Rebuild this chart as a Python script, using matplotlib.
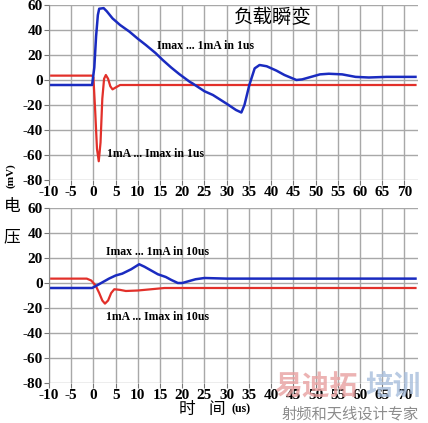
import numpy as np
import matplotlib
matplotlib.use('Agg')
import matplotlib.pyplot as plt

plt.rcParams['font.family'] = ['Liberation Serif', 'Noto Sans CJK SC', 'DejaVu Sans']
plt.rcParams['axes.unicode_minus'] = False

# 1us 负载瞬变 (上图)
t1_blue = [-9.5, -0.3, 0.2, 0.6, 1.0, 1.3, 2.3, 3.0, 4.3, 6, 8.1, 10, 11.8, 14, 15.6, 17.5, 19.3,
           21.7, 22.3, 25, 26.9, 30, 32.1, 33.3, 34.0, 35.1, 36.3, 37.4, 39, 41.2, 43, 45.7, 47,
           49, 51, 53, 56, 59, 62, 66, 72.5]
v1_blue = [-4, -4, 10, 35, 52, 57, 57.5, 55, 49.3, 44, 38.7, 33, 28, 21.5, 16, 10, 4.8,
           -1.5, -2.7, -9, -12, -19, -24, -26, -20, -4, 9.3, 12, 11, 7.5, 4, 0, 0.5,
           2.5, 4.5, 5, 4.5, 2.5, 2, 2.5, 2.5]
t1_red = [-9.5, -0.3, 0.0, 0.4, 0.8, 1.2, 1.6, 2.0, 2.4, 2.8, 3.3, 3.8, 4.3, 5, 6, 8, 72.5]
v1_red = [3.5, 3.5, 2, -25, -55, -65, -50, -15, 1, 4, 1, -5, -7.5, -6, -4, -4, -4]

# 10us 负载瞬变 (下图)
t2_blue = [-9.5, -0.3, 0.5, 2, 3.5, 5.0, 6.5, 8.5, 10.3, 11.5, 13, 14.5, 16.3, 17.5, 19, 20,
           21.5, 23, 25, 30, 72.5]
v2_blue = [-4, -4, -2.5, 0.5, 3.5, 6, 7.5, 11, 15, 13, 10, 7, 4.8, 2.5, 0, 0,
           1.5, 3, 4, 3.5, 3.5]
t2_red = [-9.5, -1.5, -0.5, 0.5, 1.3, 2.0, 2.6, 3.3, 4.0, 4.7, 6.0, 7.3, 10, 13, 16, 25, 72.5]
v2_red = [3.5, 3.5, 2, -2, -8, -14, -16.5, -14, -8, -5, -5.5, -6.4, -6, -5, -4, -4, -4]

xticks = np.arange(-10, 71, 5)
yticks = np.arange(-80, 61, 20)

blue = '#1a2bc0'
red = '#e2302a'
cjk = ['Noto Sans CJK SC', 'DejaVu Sans']

W, H = 428, 423
fig = plt.figure(figsize=(W / 100, H / 100), dpi=100)

ax1 = fig.add_axes([49 / W, 1 - 180 / H, 368.7 / W, 175 / H])
ax2 = fig.add_axes([49 / W, 1 - 383 / H, 368.7 / W, 175 / H])

for ax in (ax1, ax2):
    ax.set_xlim(-10, 73)
    ax.set_ylim(-80, 60)
    ax.set_xticks(xticks)
    ax.set_yticks(yticks)
    ax.grid(True, color='#a8a8a8', lw=1)
    ax.set_axisbelow(True)
    for s in ('top', 'right', 'bottom'):
        ax.spines[s].set_visible(False)
    ax.spines['left'].set_color('#888888')
    ax.tick_params(length=3.5, width=0.8, color='#777777', pad=1,
                   labelsize=11)
    for lab in ax.get_xticklabels() + ax.get_yticklabels():
        lab.set_fontweight('bold')

ax1.plot(t1_red, v1_red, color=red, lw=1.6)
ax1.plot(t1_blue, v1_blue, color=blue, lw=1.8)
ax2.plot(t2_red, v2_red, color=red, lw=1.6)
ax2.plot(t2_blue, v2_blue, color=blue, lw=1.8)

ax1.text(14.4, 27.4, 'Imax ... 1mA in 1us', fontsize=8.5, fontweight='bold', va='center')
ax1.text(3.1, -59.2, '1mA ... Imax in 1us', fontsize=8.5, fontweight='bold', va='center')
ax2.text(2.9, 25, 'Imax ... 1mA in 10us', fontsize=8.5, fontweight='bold', va='center')
ax2.text(2.9, -27, '1mA ... Imax in 10us', fontsize=8.5, fontweight='bold', va='center')

fig.text(273 / W, 1 - 17.5 / H, '负载瞬变', ha='center', va='center', fontsize=14, family=cjk)

# 纵轴标题
fig.text(11 / W, 1 - 176 / H, '(mV)', rotation=90, ha='center', va='center',
         fontsize=8, fontweight='bold')
fig.text(12 / W, 1 - 207 / H, '电', ha='center', va='center', fontsize=12, family=cjk)
fig.text(12 / W, 1 - 237 / H, '压', ha='center', va='center', fontsize=12, family=cjk)

# 横轴标题
fig.text(187 / W, 1 - 409 / H, '时', ha='center', va='center', fontsize=12, family=cjk)
fig.text(217 / W, 1 - 409 / H, '间', ha='center', va='center', fontsize=12, family=cjk)
fig.text(241 / W, 1 - 409 / H, '(us)', ha='center', va='center', fontsize=8.5,
         fontweight='bold')

# 水印
fig.text(316 / W, 1 - 387 / H, '易迪拓', ha='center', va='center', fontsize=20, color='#e8a0a0',
         alpha=0.8, fontweight='bold', family=cjk)
fig.text(393 / W, 1 - 387 / H, '培训', ha='center', va='center', fontsize=20, color='#a8bedc',
         alpha=0.8, fontweight='bold', family=cjk)
fig.text(350 / W, 1 - 414 / H, '射频和天线设计专家', ha='center', va='center', fontsize=11,
         color='#8c8c8c', family=cjk)

fig.savefig('out.png', dpi=100)
